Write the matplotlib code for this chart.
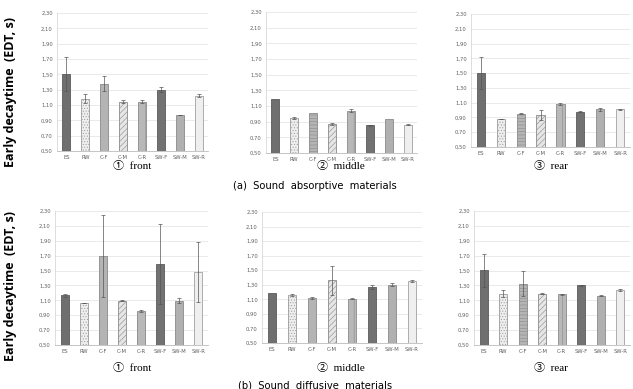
import matplotlib
matplotlib.use("Agg")
import matplotlib.pyplot as plt
from matplotlib.ticker import FuncFormatter

categories = ["ES", "RW", "C-F", "C-M", "C-R", "SW-F", "SW-M", "SW-R"]

abs_front = [1.50, 1.18, 1.38, 1.14, 1.14, 1.30, 0.97, 1.22]
abs_front_err = [0.22, 0.06, 0.10, 0.02, 0.02, 0.03, 0.005, 0.02]
abs_middle = [1.19, 0.95, 1.01, 0.87, 1.04, 0.855, 0.93, 0.86]
abs_middle_err = [0.0, 0.01, 0.0, 0.01, 0.02, 0.005, 0.0, 0.005]
abs_rear = [1.50, 0.88, 0.95, 0.93, 1.08, 0.98, 1.01, 1.01]
abs_rear_err = [0.22, 0.005, 0.01, 0.07, 0.01, 0.01, 0.02, 0.01]

dif_front = [1.17, 1.065, 1.69, 1.095, 0.96, 1.59, 1.095, 1.48]
dif_front_err = [0.02, 0.005, 0.55, 0.005, 0.015, 0.54, 0.03, 0.40]
dif_middle = [1.185, 1.16, 1.12, 1.36, 1.11, 1.27, 1.30, 1.35]
dif_middle_err = [0.0, 0.01, 0.01, 0.20, 0.005, 0.03, 0.02, 0.01]
dif_rear = [1.505, 1.19, 1.325, 1.19, 1.18, 1.30, 1.16, 1.24]
dif_rear_err = [0.22, 0.045, 0.165, 0.003, 0.003, 0.01, 0.005, 0.01]

panel_titles = ["\u2460  front", "\u2461  middle", "\u2462  rear"]
group_titles = ["(a)  Sound  absorptive  materials", "(b)  Sound  diffusive  materials"]
ylabel_text = "Early decaytime  (EDT, s)"
yticks = [0.50, 0.70, 0.90, 1.10, 1.30, 1.50, 1.70, 1.90, 2.10, 2.30]

W, H = 633, 389
fig = plt.figure(figsize=(W / 100, H / 100), dpi=100)

def ax_px(x0, y0, x1, y1):
    return fig.add_axes([x0 / W, 1 - y1 / H, (x1 - x0) / W, (y1 - y0) / H])

face = ["#6f6f6f", "#eeeeee", "#b4b4b4", "#e6e6e6", "#b8b8b8", "#727272", "#b0b0b0", "#efefef"]
edge = ["#5a5a5a", "#9a9a9a", "#8a8a8a", "#8a8a8a", "#8a8a8a", "#5a5a5a", "#8a8a8a", "#a0a0a0"]

def hatches(cf_hatch):
    return [None, "......", cf_hatch, "//////", "||", None, None, None]

panels = [
    ((57, 13, 208, 151), abs_front, abs_front_err, None),
    ((266, 12, 417, 153), abs_middle, abs_middle_err, "-----"),
    ((471, 14, 630, 147), abs_rear, abs_rear_err, "-----"),
    ((55, 211, 208, 345), dif_front, dif_front_err, None),
    ((262, 212, 422, 343), dif_middle, dif_middle_err, None),
    ((474, 211, 630, 345), dif_rear, dif_rear_err, "-----"),
]

plt.rcParams["hatch.linewidth"] = 0.4
plt.rcParams["hatch.color"] = "#7a7a7a"

for (box, vals, errs, cfh) in panels:
    ax = ax_px(*box)
    xs = list(range(len(categories)))
    hs = hatches(cfh)
    for i, (v, e) in enumerate(zip(vals, errs)):
        ax.bar(i, v - 0.5, bottom=0.5, width=0.42, color=face[i], edgecolor=edge[i],
               linewidth=0.6, hatch=hs[i], zorder=2)
        if e > 0:
            ax.errorbar(i, v, yerr=e, fmt="none", ecolor="#555555", elinewidth=0.5,
                        capsize=1.2, capthick=0.5, zorder=3)
    ax.set_xlim(-0.5, 7.5)
    ax.set_ylim(0.5, 2.3)
    ax.set_yticks(yticks)
    ax.yaxis.set_major_formatter(FuncFormatter(lambda v, p: f"{v:.2f}".replace(".", ",")))
    ax.set_xticks(xs)
    ax.set_xticklabels(categories)
    ax.tick_params(axis="both", length=0, labelsize=3.8, colors="#606060", pad=3)
    ax.grid(axis="y", color="#e2e2e2", linewidth=0.5, zorder=0)
    ax.set_axisbelow(True)
    for s in ["top", "right"]:
        ax.spines[s].set_visible(False)
    ax.spines["left"].set_color("#d0d0d0")
    ax.spines["left"].set_linewidth(0.5)
    ax.spines["bottom"].set_color("#bbbbbb")
    ax.spines["bottom"].set_linewidth(0.6)

serif = ["Liberation Serif", "Noto Sans CJK SC", "DejaVu Sans"]
for row, ytxt in enumerate([166, 368]):
    for col, xc in enumerate([132, 341, 551]):
        fig.text(xc / W, 1 - ytxt / H, panel_titles[col], ha="center", va="center",
                 fontsize=8, family=serif)
fig.text(315 / W, 1 - 186 / H, group_titles[0], ha="center", va="center",
         fontsize=7.2, family="DejaVu Sans")
fig.text(315 / W, 1 - 385 / H, group_titles[1], ha="center", va="center",
         fontsize=7.2, family="DejaVu Sans")

for yc in [92, 286]:
    fig.text(11 / W, 1 - yc / H, ylabel_text, rotation=90, ha="center", va="center",
             fontsize=9, fontweight="bold", family="Open Sans")

fig.savefig("out.png", dpi=100)
